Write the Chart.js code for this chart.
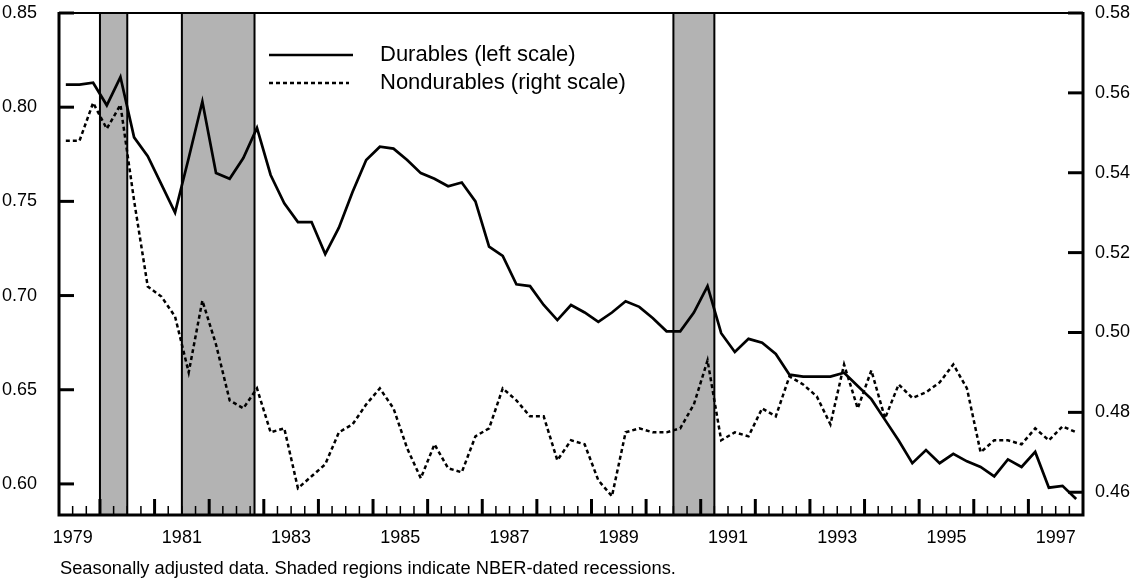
<!DOCTYPE html>
<html>
<head>
<meta charset="utf-8">
<title>Durables and nondurables</title>
<script src="https://cdn.jsdelivr.net/npm/chart.js@4.4.1/dist/chart.umd.min.js"></script>
<style>
  body { margin: 0; background: #fff; }
  #wrap { position: relative; width: 1143px; height: 585px; }
  #note {
    position: absolute; left: 60px; top: 557px;
    font: 18.3px 'Liberation Sans', Arial, sans-serif; line-height: 22px; color: #000;
  }
</style>
</head>
<body>
<div id="wrap">
  <canvas id="chart" width="1143" height="585"></canvas>
  <div id="note">Seasonally adjusted data. Shaded regions indicate NBER-dated recessions.</div>
</div>
<script>
// ===== Data =====
const quarters = [
  '1979Q2', '1979Q3', '1979Q4',
  '1980Q1', '1980Q2', '1980Q3', '1980Q4',
  '1981Q1', '1981Q2', '1981Q3', '1981Q4',
  '1982Q1', '1982Q2', '1982Q3', '1982Q4',
  '1983Q1', '1983Q2', '1983Q3', '1983Q4',
  '1984Q1', '1984Q2', '1984Q3', '1984Q4',
  '1985Q1', '1985Q2', '1985Q3', '1985Q4',
  '1986Q1', '1986Q2', '1986Q3', '1986Q4',
  '1987Q1', '1987Q2', '1987Q3', '1987Q4',
  '1988Q1', '1988Q2', '1988Q3', '1988Q4',
  '1989Q1', '1989Q2', '1989Q3', '1989Q4',
  '1990Q1', '1990Q2', '1990Q3', '1990Q4',
  '1991Q1', '1991Q2', '1991Q3', '1991Q4',
  '1992Q1', '1992Q2', '1992Q3', '1992Q4',
  '1993Q1', '1993Q2', '1993Q3', '1993Q4',
  '1994Q1', '1994Q2', '1994Q3', '1994Q4',
  '1995Q1', '1995Q2', '1995Q3', '1995Q4',
  '1996Q1', '1996Q2', '1996Q3', '1996Q4',
  '1997Q1', '1997Q2', '1997Q3', '1997Q4'
];

// left scale
const durables = [
  0.812, 0.812, 0.813,
  0.801, 0.816, 0.784, 0.774,
  0.759, 0.744, 0.773, 0.803,
  0.765, 0.762, 0.773, 0.789,
  0.764, 0.749, 0.739, 0.739,
  0.722, 0.736, 0.755, 0.772,
  0.779, 0.778, 0.772, 0.765,
  0.762, 0.758, 0.760, 0.750,
  0.726, 0.721, 0.706, 0.705,
  0.695, 0.687, 0.695, 0.691,
  0.686, 0.691, 0.697, 0.694,
  0.688, 0.681, 0.681, 0.691,
  0.705, 0.680, 0.670, 0.677,
  0.675, 0.669, 0.658, 0.657,
  0.657, 0.657, 0.659, 0.652,
  0.645, 0.634, 0.623, 0.611,
  0.618, 0.611, 0.616, 0.612,
  0.609, 0.604, 0.613, 0.609,
  0.617, 0.598, 0.599, 0.592
];

// right scale
const nondurables = [
  0.548, 0.548, 0.5575,
  0.551, 0.557, 0.533, 0.5115,
  0.509, 0.504, 0.490, 0.508,
  0.497, 0.483, 0.481, 0.486,
  0.475, 0.476, 0.461, 0.464,
  0.467, 0.475, 0.477, 0.482,
  0.486, 0.481, 0.471, 0.4635,
  0.472, 0.466, 0.465, 0.474,
  0.476, 0.486, 0.483, 0.479,
  0.479, 0.468, 0.473, 0.472,
  0.463, 0.459, 0.475, 0.476,
  0.475, 0.475, 0.476, 0.482,
  0.493, 0.473, 0.475, 0.474,
  0.481, 0.479, 0.489, 0.487,
  0.484, 0.477, 0.492, 0.481,
  0.4905, 0.4785, 0.487, 0.4836,
  0.485, 0.4875, 0.492, 0.486,
  0.470, 0.473, 0.473, 0.472,
  0.476, 0.473, 0.4765, 0.475
];

// NBER recessions, as [start, end] in years
const recessions = [[1980.0, 1980.5], [1981.5, 1982.83], [1990.5, 1991.25]];

const yearLabels = [1979, 1981, 1983, 1985, 1987, 1989, 1991, 1993, 1995, 1997];
const leftTicks = [0.60, 0.65, 0.70, 0.75, 0.80, 0.85];
const rightTicks = [0.46, 0.48, 0.50, 0.52, 0.54, 0.56, 0.58];

const FONT = "'Liberation Sans', Arial, sans-serif";

// quarter label -> middle of the quarter in years
function quarterTime(q) {
  return +q.slice(0, 4) + (+q.slice(5) - 1) / 4 + 0.125;
}

const toPoints = values => values.map((v, i) => ({ x: quarterTime(quarters[i]), y: v }));

// ===== Plugins =====
const recessionShading = {
  id: 'recessionShading',
  beforeDatasetsDraw(chart) {
    const { ctx, chartArea: a, scales: { x } } = chart;
    ctx.save();
    recessions.forEach(([s, e]) => {
      const x1 = x.getPixelForValue(s);
      const x2 = x.getPixelForValue(e);
      ctx.fillStyle = '#b3b3b3';
      ctx.fillRect(x1, a.top, x2 - x1, a.bottom - a.top);
      ctx.strokeStyle = '#000';
      ctx.lineWidth = 2;
      ctx.beginPath();
      ctx.moveTo(x1, a.top); ctx.lineTo(x1, a.bottom);
      ctx.moveTo(x2, a.top); ctx.lineTo(x2, a.bottom);
      ctx.stroke();
    });
    ctx.restore();
  }
};

const frameAndLegend = {
  id: 'frameAndLegend',
  afterDatasetsDraw(chart) {
    const { ctx, chartArea: a, scales: { x, y, y1 } } = chart;
    ctx.save();
    ctx.strokeStyle = '#000';
    ctx.lineCap = 'butt';

    // frame
    ctx.lineWidth = 2;
    ctx.beginPath();
    ctx.moveTo(a.left, a.top); ctx.lineTo(a.right, a.top);
    ctx.stroke();
    ctx.lineWidth = 3;
    ctx.beginPath();
    ctx.moveTo(a.left, a.top - 1); ctx.lineTo(a.left, a.bottom);
    ctx.lineTo(a.right, a.bottom); ctx.lineTo(a.right, a.top - 1);
    ctx.stroke();

    // inward tick marks on the value axes
    ctx.lineWidth = 3;
    leftTicks.forEach(v => {
      const py = y.getPixelForValue(v);
      ctx.beginPath(); ctx.moveTo(a.left, py); ctx.lineTo(a.left + 15, py); ctx.stroke();
    });
    rightTicks.forEach(v => {
      const py = y1.getPixelForValue(v);
      ctx.beginPath(); ctx.moveTo(a.right, py); ctx.lineTo(a.right - 15, py); ctx.stroke();
    });

    // year and quarter tick marks on the time axis
    for (let q = x.min + 0.25; q < x.max - 0.01; q += 0.25) {
      const major = Math.abs(q - Math.round(q)) < 0.01;
      const px = x.getPixelForValue(q);
      ctx.lineWidth = major ? 3 : 1.5;
      ctx.beginPath();
      ctx.moveTo(px, a.bottom);
      ctx.lineTo(px, a.bottom - (major ? 16 : 9));
      ctx.stroke();
    }

    // legend
    ctx.lineWidth = 2.7;
    ctx.beginPath(); ctx.moveTo(269, 55); ctx.lineTo(353, 55); ctx.stroke();
    ctx.lineWidth = 2.5;
    ctx.setLineDash([4, 3]);
    ctx.beginPath(); ctx.moveTo(269, 83); ctx.lineTo(349, 83); ctx.stroke();
    ctx.setLineDash([]);
    ctx.fillStyle = '#000';
    ctx.font = '22px ' + FONT;
    ctx.textBaseline = 'middle';
    ctx.fillText('Durables (left scale)', 380, 55);
    ctx.fillText('Nondurables (right scale)', 380, 83);
    ctx.restore();
  }
};

// ===== Chart =====
const tickFont = { family: FONT, size: 18 };

// fixed axis sizes, no extra room for overhanging labels
const fitY = width => s => { s.width = width; s.paddingTop = 0; s.paddingBottom = 0; };

new Chart(document.getElementById('chart'), {
  type: 'line',
  data: {
    datasets: [
      {
        label: 'Durables (left scale)',
        data: toPoints(durables),
        yAxisID: 'y',
        borderColor: '#000',
        borderWidth: 2.7,
        pointRadius: 0,
        tension: 0
      },
      {
        label: 'Nondurables (right scale)',
        data: toPoints(nondurables),
        yAxisID: 'y1',
        borderColor: '#000',
        borderWidth: 2.5,
        borderDash: [4, 3],
        pointRadius: 0,
        tension: 0
      }
    ]
  },
  options: {
    responsive: false,
    animation: false,
    devicePixelRatio: 1,
    layout: { padding: { top: 13, left: 0, right: 0, bottom: 0 } },
    plugins: { legend: { display: false }, tooltip: { enabled: false } },
    scales: {
      x: {
        type: 'linear',
        min: 1979.25,
        max: 1998,
        grid: { display: false, drawTicks: false },
        border: { display: false },
        afterBuildTicks: s => { s.ticks = yearLabels.map(v => ({ value: v + 0.5 })); },
        afterFit: s => { s.height = 70; s.paddingLeft = 0; s.paddingRight = 0; },
        ticks: {
          autoSkip: false,
          maxRotation: 0,
          padding: 12,
          color: '#000',
          font: tickFont,
          callback: (v, i) => String(yearLabels[i])
        }
      },
      y: {
        position: 'left',
        min: 0.5835,
        max: 0.85,
        grid: { display: false, drawTicks: false },
        border: { display: false },
        afterBuildTicks: s => { s.ticks = leftTicks.map(v => ({ value: v })); },
        afterFit: fitY(59),
        ticks: { padding: 22, color: '#000', font: tickFont, callback: v => v.toFixed(2) }
      },
      y1: {
        position: 'right',
        min: 0.4543,
        max: 0.58,
        grid: { display: false, drawTicks: false },
        border: { display: false },
        afterBuildTicks: s => { s.ticks = rightTicks.map(v => ({ value: v })); },
        afterFit: fitY(60),
        ticks: { padding: 12, color: '#000', font: tickFont, callback: v => v.toFixed(2) }
      }
    }
  },
  plugins: [recessionShading, frameAndLegend]
});
</script>
</body>
</html>
